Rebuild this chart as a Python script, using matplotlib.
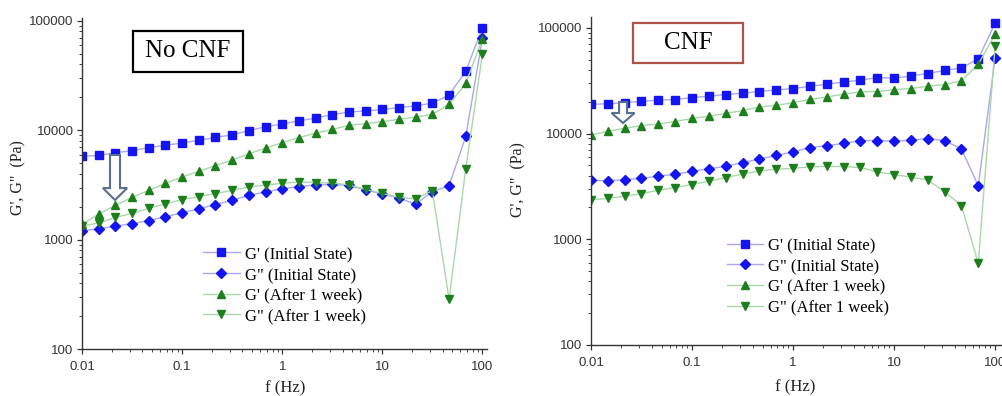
import matplotlib
matplotlib.use("Agg")
import matplotlib.pyplot as plt
from matplotlib.ticker import LogLocator, FuncFormatter, NullFormatter
from matplotlib.patches import Rectangle, FancyArrow

# ---------------- data ----------------
freq = [0.01, 0.0147, 0.0215, 0.0316, 0.0464, 0.0681, 0.1, 0.147, 0.215, 0.316,
        0.464, 0.681, 1, 1.47, 2.15, 3.16, 4.64, 6.81, 10, 14.7, 21.5, 31.6,
        46.4, 68.1, 100]

# Left panel: No CNF
nocnf_gp_init = [5800, 5900, 6250, 6500, 6950, 7300, 7650, 8100, 8600, 9100,
                 9900, 10800, 11400, 12200, 12950, 13900, 14700, 15000, 15500,
                 16100, 16700, 17700, 21000, 34600, 86500]
nocnf_gpp_init = [1210, 1260, 1335, 1400, 1500, 1620, 1770, 1915, 2100, 2290,
                  2550, 2730, 2930, 3060, 3160, 3200, 3140, 2850, 2620, 2400,
                  2110, 2760, 3110, 8800, 69000]
nocnf_gp_week = [1380, 1720, 2060, 2440, 2830, 3270, 3740, 4220, 4750, 5350,
                 6100, 6880, 7700, 8580, 9400, 10200, 11100, 11500, 12000,
                 12600, 13200, 14000, 17200, 26800, 68600]
nocnf_gpp_week = [1330, 1430, 1600, 1740, 1940, 2120, 2330, 2480, 2640, 2830,
                  3030, 3160, 3280, 3370, 3330, 3290, 3180, 2880, 2650, 2440,
                  2370, 2810, 285, 4450, 50000]

# Right panel: CNF
cnf_gp_init = [18900, 19150, 19600, 20200, 20700, 21000, 21900, 22600, 23400,
               24100, 25000, 25900, 26700, 28000, 29300, 30700, 32100, 33800,
               33500, 35100, 37000, 39600, 41800, 51000, 111000]
cnf_gpp_init = [3610, 3560, 3650, 3770, 3940, 4120, 4370, 4640, 4900, 5310,
                5730, 6200, 6700, 7370, 7670, 8060, 8580, 8580, 8460, 8640,
                8970, 8550, 7180, 3190, 52000]
cnf_gp_week = [9700, 10500, 11200, 11900, 12300, 13000, 13900, 14600, 15500,
               16500, 17800, 18500, 19600, 21100, 22200, 23600, 24800, 25000,
               26000, 26700, 28000, 29100, 31600, 45300, 87100]
cnf_gpp_week = [2360, 2430, 2550, 2700, 2900, 3080, 3290, 3530, 3830, 4120,
                4420, 4590, 4690, 4830, 4900, 4870, 4770, 4330, 4090, 3860,
                3640, 2810, 2080, 590, 67400]

series_labels = ["G' (Initial State)", 'G" (Initial State)',
                 "G' (After 1 week)", 'G" (After 1 week)']
panel_titles = ["No CNF", "CNF"]
x_ticks = [0.01, 0.1, 1, 10, 100]
y_ticks = [100, 1000, 10000, 100000]

# ---------------- style ----------------
SERIF = ["Liberation Serif", "DejaVu Serif"]
SANS = ["Liberation Sans", "DejaVu Sans"]
BLUE_M = "#1414f0"
BLUE_L = "#a8a8f2"
GREEN_M = "#1c7f1c"
GREEN_L = "#a8d8a8"
ARROW_C = "#56708f"

styles = [
    dict(marker="s", ms=5.4, color=BLUE_L, mfc=BLUE_M, mec=BLUE_M),
    dict(marker="D", ms=5.2, color=BLUE_L, mfc=BLUE_M, mec=BLUE_M),
    dict(marker="^", ms=6.2, color=GREEN_L, mfc=GREEN_M, mec=GREEN_M),
    dict(marker="v", ms=6.2, color=GREEN_L, mfc=GREEN_M, mec=GREEN_M),
]

fig = plt.figure(figsize=(10.02, 3.96), dpi=100)
W, H = 1002.0, 396.0

def px_axes(x0, x1, ytop, ybot):
    return fig.add_axes([x0 / W, (H - ybot) / H, (x1 - x0) / W, (ybot - ytop) / H])

ax1 = px_axes(82, 487, 18, 349.3)
ax2 = px_axes(591, 1002, 17, 344.7)

panels = [
    (ax1, [nocnf_gp_init, nocnf_gpp_init, nocnf_gp_week, nocnf_gpp_week],
     (0.01, 111), (100, 106000)),
    (ax2, [cnf_gp_init, cnf_gpp_init, cnf_gp_week, cnf_gpp_week],
     (0.01, 117), (100, 127000)),
]

for ax, data, xl, yl in panels:
    for vals, st, lab in zip(data, styles, series_labels):
        ax.plot(freq, vals, lw=1.0, label=lab, **st)
    ax.set_xscale("log")
    ax.set_yscale("log")
    ax.set_xlim(*xl)
    ax.set_ylim(*yl)
    ax.set_xticks(x_ticks)
    ax.set_yticks(y_ticks)
    fmt = FuncFormatter(lambda v, _: f"{v:g}")
    ax.xaxis.set_major_formatter(fmt)
    ax.yaxis.set_major_formatter(fmt)
    ax.xaxis.set_minor_locator(LogLocator(base=10, subs=range(2, 10)))
    ax.yaxis.set_minor_locator(LogLocator(base=10, subs=range(2, 10)))
    ax.xaxis.set_minor_formatter(NullFormatter())
    ax.yaxis.set_minor_formatter(NullFormatter())
    for s in ("top", "right"):
        ax.spines[s].set_visible(False)
    for s in ("left", "bottom"):
        ax.spines[s].set_linewidth(1.0)
        ax.spines[s].set_color("#333333")
    ax.tick_params(which="major", direction="out", length=3.5, width=0.9,
                   colors="#333333", labelsize=9.5, pad=2.5)
    ax.tick_params(which="minor", direction="out", length=2, width=0.7,
                   colors="#444444")
    ax.tick_params(axis="x", which="major", pad=5)
    for t in ax.get_xticklabels() + ax.get_yticklabels():
        t.set_family(SANS)
        t.set_color("#333333")
    ax.set_xlabel("f (Hz)", family=SERIF, fontsize=12, color="#222222")
    ax.set_ylabel("G', G\"  (Pa)", family=SERIF, fontsize=11.5, color="#222222")

ax1.xaxis.set_label_coords(0.501, -0.095)
ax2.xaxis.set_label_coords(0.496, -0.105)
ax1.yaxis.set_label_coords(-0.138, 0.517)
ax2.yaxis.set_label_coords(-0.158, 0.503)

# legends
for ax, anchor in ((ax1, (0.299, 0.311)), (ax2, (0.33, 0.327))):
    ax.legend(loc="upper left", bbox_to_anchor=anchor, frameon=False,
              prop={"family": SERIF, "size": 12}, borderaxespad=0, borderpad=0,
              handlelength=2.2, handletextpad=0.3, labelspacing=0.28)

# title boxes
ax1.add_patch(Rectangle((0.126, 0.837), 0.2716, 0.1238, transform=ax1.transAxes,
                        fill=False, ec="black", lw=1.6, clip_on=False))
ax1.text(0.126 + 0.1358, 0.837 + 0.062, panel_titles[0], transform=ax1.transAxes,
         ha="center", va="center", family=SERIF, fontsize=18)
ax2.add_patch(Rectangle((0.102, 0.8596), 0.2676, 0.122, transform=ax2.transAxes,
                        fill=False, ec="#b0514a", lw=1.6, clip_on=False))
ax2.text(0.102 + 0.1338, 0.8596 + 0.061, panel_titles[1], transform=ax2.transAxes,
         ha="center", va="center", family=SERIF, fontsize=18)

# hollow down arrows
ax1.add_patch(FancyArrow(0.0815, 0.5865, 0, -0.1358, width=0.0247,
                         head_width=0.06, head_length=0.036,
                         length_includes_head=True, transform=ax1.transAxes,
                         fc="white", ec=ARROW_C, lw=1.5, zorder=5))
ax2.add_patch(FancyArrow(0.078, 0.7406, 0, -0.064, width=0.0195,
                         head_width=0.056, head_length=0.0305,
                         length_includes_head=True, transform=ax2.transAxes,
                         fc="white", ec=ARROW_C, lw=1.5, zorder=5))

fig.savefig("out.png", dpi=100, facecolor="white")
